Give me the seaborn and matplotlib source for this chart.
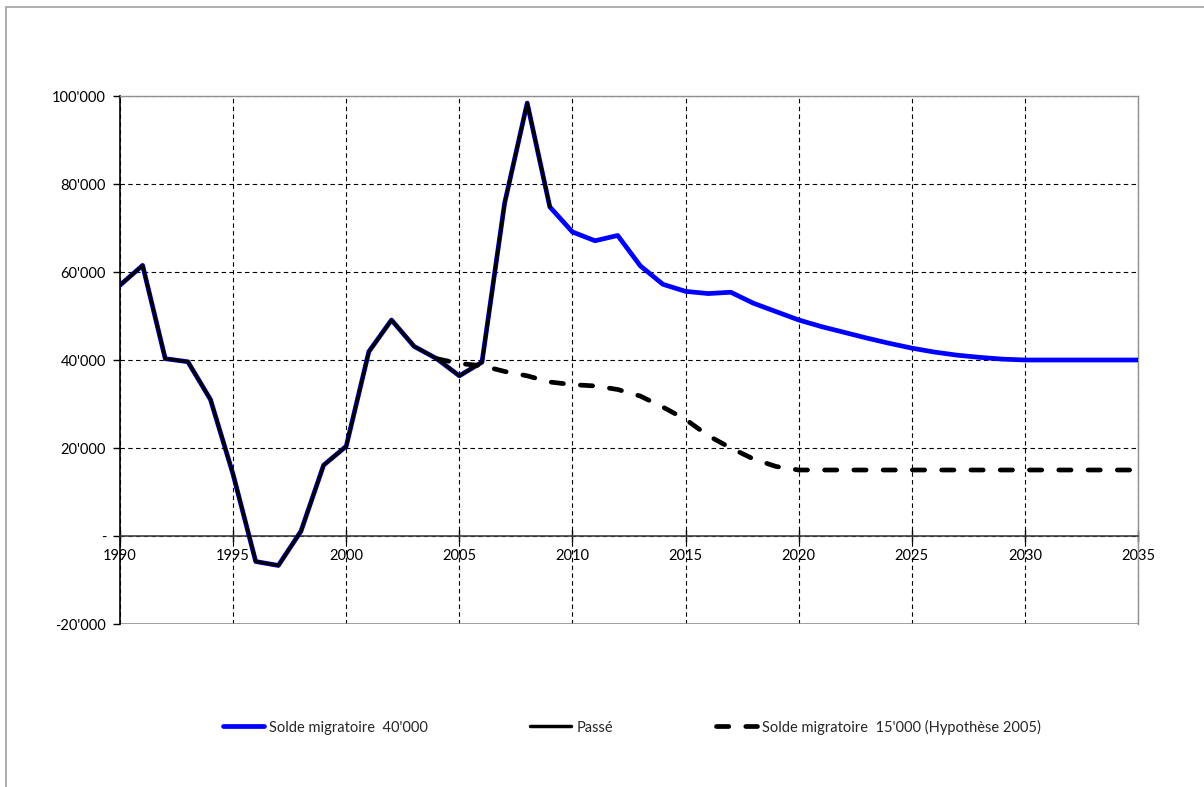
import numpy as np
import pandas as pd
import seaborn as sns
import matplotlib.pyplot as plt
from matplotlib.ticker import FuncFormatter, MultipleLocator
from matplotlib.patches import Rectangle

# data
past_years = list(range(1990, 2010))
past_values = [57000, 61500, 40300, 39600, 31000, 14000, -5800, -6700, 1100, 16100,
               20400, 41900, 49100, 43100, 40300, 36400, 39500, 75600, 98400, 74800]

high_years = list(range(1990, 2036))
high_values = [57000, 61500, 40300, 39600, 31000, 14000, -5800, -6700, 1100, 16100,
               20400, 41900, 49100, 43100, 40300, 36400, 39500, 75600, 98400, 74800,
               69100, 67100, 68300, 61400, 57200, 55600, 55100, 55400, 52900, 51000,
               49100, 47600, 46300, 45000, 43800, 42700, 41800, 41100, 40600, 40200,
               40000, 40000, 40000, 40000, 40000, 40000]

low_years = list(range(2004, 2036))
low_values = [40300, 39200, 38700, 37400, 36400, 35000, 34400, 34100, 33300, 31800,
              29300, 26500, 22800, 20000, 17500, 15800, 15000, 15000, 15000, 15000,
              15000, 15000, 15000, 15000, 15000, 15000, 15000, 15000, 15000, 15000,
              15000, 15000]

labels = ["Solde migratoire  40'000", "Passé", "Solde migratoire  15'000 (Hypothèse 2005)"]


def fmt(v, pos):
    if abs(v) < 1:
        return "-"
    return "{:,.0f}".format(v).replace(",", "'")


def main():
    sns.set_style("white")
    plt.rcParams['font.family'] = ['Lato', 'DejaVu Sans']
    plt.rcParams['font.size'] = 10.5

    fig = plt.figure(figsize=(12.04, 7.87), dpi=100)
    ax = fig.add_axes([120 / 1204, 1 - 624 / 787, 1018 / 1204, 528 / 787])

    # outer frame of the chart area
    fig.patches.append(Rectangle((6 / 1204, -0.1), 1.2, 1 - 7 / 787 + 0.1,
                                 transform=fig.transFigure, fill=False,
                                 edgecolor='#a0a0a0', linewidth=1.2))

    df_high = pd.DataFrame({'year': high_years, 'value': high_values})
    df_past = pd.DataFrame({'year': past_years, 'value': past_values})
    df_low = pd.DataFrame({'year': low_years, 'value': low_values})

    sns.lineplot(data=df_high, x='year', y='value', ax=ax, color='#0000ff',
                 linewidth=3.4, label=labels[0], zorder=3)
    sns.lineplot(data=df_past, x='year', y='value', ax=ax, color='black',
                 linewidth=2.5, label=labels[1], zorder=4)
    sns.lineplot(data=df_low, x='year', y='value', ax=ax, color='black',
                 linewidth=3.4, label=labels[2], zorder=5)
    ax.lines[-1].set_dashes((2.6, 3.6))
    ax.lines[-1].set_dash_capstyle('round')

    ax.set_xlim(1990, 2035)
    ax.set_ylim(-20000, 100000)
    ax.xaxis.set_major_locator(MultipleLocator(5))
    ax.yaxis.set_major_locator(MultipleLocator(20000))
    ax.yaxis.set_major_formatter(FuncFormatter(fmt))
    ax.set_xlabel('')
    ax.set_ylabel('')

    ax.grid(True, color='black', linestyle=(0, (4, 3)), linewidth=0.8)
    ax.set_axisbelow(True)

    ax.spines['bottom'].set_position(('data', 0))
    ax.spines['bottom'].set_color('#404040')
    ax.spines['bottom'].set_linewidth(1.2)
    ax.spines['left'].set_color('black')
    ax.spines['left'].set_linewidth(1.2)
    for s in ['top', 'right']:
        ax.spines[s].set_color('#909090')
        ax.spines[s].set_linewidth(1.0)
    ax.axhline(-20000, color='#909090', linewidth=1.2, zorder=2)

    ax.tick_params(axis='x', direction='inout', length=8, width=1, colors='black',
                   pad=5, labelsize=10.5, bottom=True)
    ax.tick_params(axis='y', direction='out', length=5, width=1, colors='black',
                   pad=5, labelsize=10.5, left=True)

    handles, labs = ax.get_legend_handles_labels()
    ax.get_legend().remove()
    fig.legend(handles, labs, loc='center', bbox_to_anchor=(0.525, 1 - 727 / 787),
               ncol=3, frameon=False, handlelength=2.8, columnspacing=7.0,
               handletextpad=0.4, fontsize=10.5)

    fig.savefig('out.png', dpi=100)


if __name__ == '__main__':
    main()
